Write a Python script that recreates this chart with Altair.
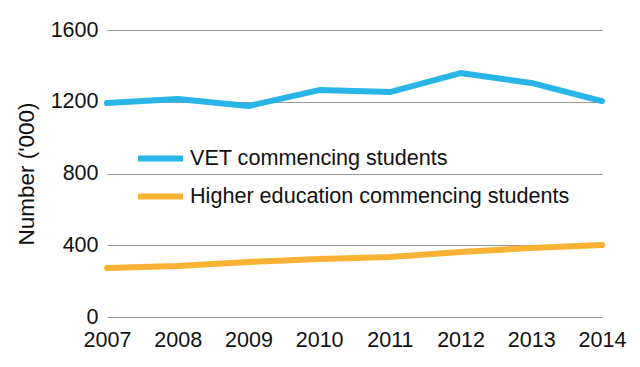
import altair as alt
import pandas as pd

years = ["2007", "2008", "2009", "2010", "2011", "2012", "2013", "2014"]
vet = [1193, 1215, 1176, 1265, 1254, 1360, 1305, 1204]
higher = [273, 284, 307, 323, 334, 362, 385, 401]
series_names = ["VET commencing students", "Higher education commencing students"]
colors = ["#29B5E8", "#F9B233"]

rows = []
for y, v in zip(years, vet):
    rows.append({"Year": y, "Series": series_names[0], "Value": v})
for y, v in zip(years, higher):
    rows.append({"Year": y, "Series": series_names[1], "Value": v})
df = pd.DataFrame(rows)

FONT = "Liberation Sans"

chart = alt.Chart(df).mark_line(strokeWidth=6, strokeCap="round", strokeJoin="round").encode(
    x=alt.X("Year:O", scale=alt.Scale(type="point", padding=0),
            axis=alt.Axis(title=None, labelAngle=0, ticks=False, domain=False, grid=False,
                          labelFontSize=21.5, labelFont=FONT, labelColor="#111", labelPadding=12)),
    y=alt.Y("Value:Q", scale=alt.Scale(domain=[0, 1600]),
            axis=alt.Axis(title="Number ('000)", values=[0, 400, 800, 1200, 1600], format="d",
                          ticks=False, domain=False, gridColor="#999999", gridWidth=1,
                          labelFontSize=21.5, labelFont=FONT, labelColor="#111", labelPadding=9,
                          titleFontSize=22.5, titleFont=FONT, titleFontWeight="normal",
                          titleColor="#111", titlePadding=12)),
    color=alt.Color("Series:N", scale=alt.Scale(domain=series_names, range=colors),
                    legend=alt.Legend(title=None, orient="none", legendX=28, legendY=103,
                                      symbolType="stroke", symbolStrokeWidth=6, symbolSize=2025,
                                      labelFontSize=21.6, labelFont=FONT, labelColor="#111",
                                      rowPadding=-5, labelOffset=4, labelLimit=500)),
).properties(
    width=495, height=287,
    background="white",
    autosize=alt.AutoSizeParams(type="none"),
    padding={"left": 99, "top": 22, "right": 30, "bottom": 40},
).configure_view(stroke="transparent", strokeWidth=0)

chart.save("out.html", embed_options={"renderer": "svg", "actions": False})
